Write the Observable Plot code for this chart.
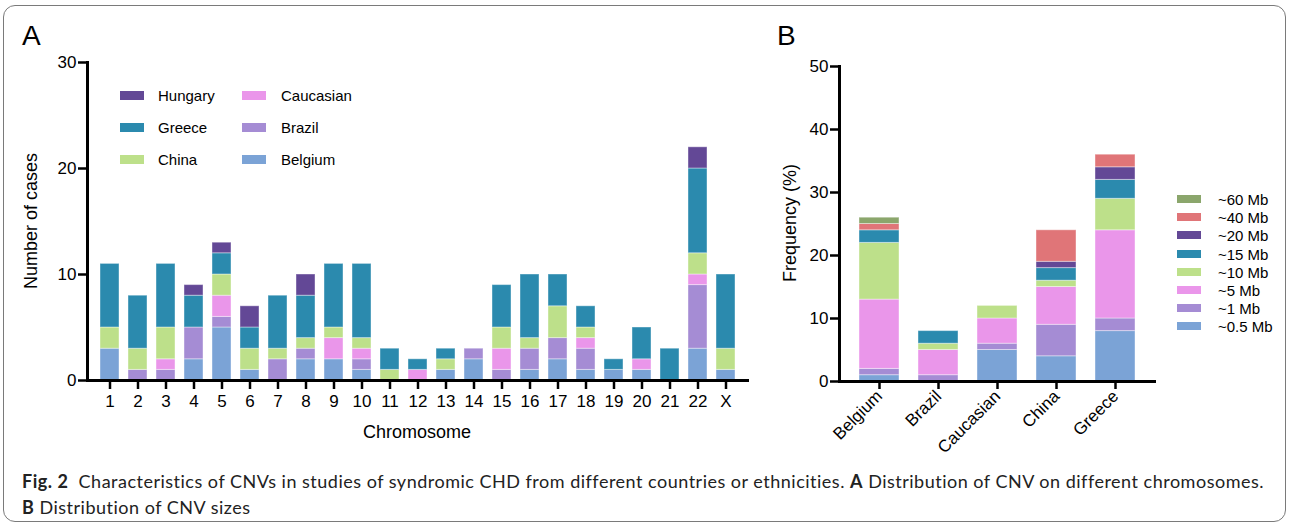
<!DOCTYPE html>
<html><head><meta charset="utf-8">
<script src="https://cdn.jsdelivr.net/npm/d3@7"></script>
<script src="https://cdn.jsdelivr.net/npm/@observablehq/plot@0.6"></script>
<style>
body{margin:0;background:#fff;width:1290px;height:526px;overflow:hidden;position:relative;font-family:"Liberation Sans",Arial,sans-serif;color:#000;}
#frame{position:absolute;left:3px;top:5px;width:1283px;height:517px;border:1px solid #7a7a7a;border-radius:12px;box-sizing:border-box;}
.abs{position:absolute;}
.panel{font-size:28px;line-height:1;}
.title{font-size:18px;white-space:nowrap;transform:translate(-50%,-50%);line-height:1;}
.title.rot{transform:translate(-50%,-50%) rotate(-90deg);}
.leg{position:absolute;font-size:15px;line-height:1;white-space:nowrap;}
.leg .sw{position:absolute;width:24px;height:9px;}
.leg span.t{position:absolute;transform:translateY(-50%);}
#caption{position:absolute;left:22px;top:468px;font-family:Lato,"Open Sans",sans-serif;font-size:18px;letter-spacing:0.5px;line-height:26px;color:#222;white-space:nowrap;}
</style></head><body>
<div id="frame"></div>
<div id="plotA" class="abs" style="left:0;top:0"></div>
<div id="plotB" class="abs" style="left:760px;top:0"></div>
<div class="abs panel" style="left:22px;top:22px">A</div>
<div class="abs panel" style="left:777px;top:22px">B</div>
<div class="abs title rot" style="left:31px;top:221px">Number of cases</div>
<div class="abs title" style="left:417px;top:432px">Chromosome</div>
<div class="abs title rot" style="left:790px;top:223px">Frequency (%)</div>
<div id="legA"></div>
<div id="legB"></div>
<div id="caption"><b>Fig. 2</b>&nbsp; Characteristics of CNVs in studies of syndromic CHD from different countries or ethnicities. <b>A</b> Distribution of CNV on different chromosomes.<br><b>B</b> Distribution of CNV sizes</div>
<script>
// ---------- Panel A data ----------
const chromosomes = ["1","2","3","4","5","6","7","8","9","10","11","12","13","14","15","16","17","18","19","20","21","22","X"];
const countriesA = ["Belgium","Brazil","Caucasian","China","Greece","Hungary"];
const belgiumA   = [3,0,0,2,5,1,0,2,2,1,0,0,1,2,0,1,2,1,1,1,0,3,1];
const brazilA    = [0,1,1,3,1,0,2,1,0,1,0,0,0,1,1,2,2,2,0,0,0,6,0];
const caucasianA = [0,0,1,0,2,0,0,0,2,1,0,1,0,0,2,0,0,1,0,1,0,1,0];
const chinaA     = [2,2,3,0,2,2,1,1,1,1,1,0,1,0,2,1,3,1,0,0,0,2,2];
const greeceA    = [6,5,6,3,2,2,5,4,6,7,2,1,1,0,4,6,3,2,1,3,3,8,7];
const hungaryA   = [0,0,0,1,1,2,0,2,0,0,0,0,0,0,0,0,0,0,0,0,0,2,0];
const colorsA = ["#7ba3d6","#a58cd4","#ea96ea","#bde08a","#2b8aae","#634896"];
const yTicksA = [0,10,20,30];

// ---------- Panel B data ----------
const countriesB = ["Belgium","Brazil","Caucasian","China","Greece"];
const sizesB = ["~0.5 Mb","~1 Mb","~5 Mb","~10 Mb","~15 Mb","~20 Mb","~40 Mb","~60 Mb"];
const mb05 = [1,0,5,4,8];
const mb1  = [1,1,1,5,2];
const mb5  = [11,4,4,6,14];
const mb10 = [9,1,2,1,5];
const mb15 = [2,2,0,2,3];
const mb20 = [0,0,0,1,2];
const mb40 = [1,0,0,5,2];
const mb60 = [1,0,0,0,0];
const colorsB = ["#7ba3d6","#a58cd4","#ea96ea","#bde08a","#2b8aae","#634896","#e07578","#8ba66c"];
const yTicksB = [0,10,20,30,40,50];

// legend layout (display order)
const legendA = [["Hungary","Caucasian"],["Greece","Brazil"],["China","Belgium"]];

const seriesA = [belgiumA, brazilA, caucasianA, chinaA, greeceA, hungaryA];
const rowsA = countriesA.flatMap((c,i)=>seriesA[i].map((v,j)=>({chr:chromosomes[j],country:c,value:v}))).filter(d=>d.value>0);
const seriesB = [mb05, mb1, mb5, mb10, mb15, mb20, mb40, mb60];
const rowsB = sizesB.flatMap((s,i)=>seriesB[i].map((v,j)=>({country:countriesB[j],size:s,value:v}))).filter(d=>d.value>0);

const baseStyle = {fontFamily:"Liberation Sans, Arial, sans-serif", color:"#000", background:"transparent", overflow:"visible"};

const plotA = Plot.plot({
  width:760, height:450, marginLeft:87, marginRight:13, marginTop:62, marginBottom:70,
  style:baseStyle,
  x:{domain:chromosomes, padding:0.33, axis:null},
  y:{domain:[0,30], axis:null},
  color:{domain:countriesA, range:colorsA},
  marks:[
    Plot.barY(rowsA,{x:"chr",y:"value",fill:"country",order:countriesA,stroke:"#fff",strokeOpacity:0.4,strokeWidth:1}),
    Plot.axisY({ticks:yTicksA, tickSize:9, tickPadding:2, strokeWidth:2.5, fontSize:17, label:null}),
    Plot.axisX({tickSize:9, tickPadding:5, strokeWidth:2.5, fontSize:17, label:null}),
    Plot.frame({anchor:"left", strokeWidth:3}),
    Plot.frame({anchor:"bottom", strokeWidth:3})
  ]
});
document.getElementById("plotA").appendChild(plotA);

const plotB = Plot.plot({
  width:530, height:460, marginLeft:79, marginRight:136, marginTop:66, marginBottom:79,
  style:baseStyle,
  x:{domain:countriesB, padding:0.33, axis:null},
  y:{domain:[0,50], axis:null},
  color:{domain:sizesB, range:colorsB},
  marks:[
    Plot.barY(rowsB,{x:"country",y:"value",fill:"size",order:sizesB,stroke:"#fff",strokeOpacity:0.4,strokeWidth:1}),
    Plot.axisY({ticks:yTicksB, tickSize:9, tickPadding:2, strokeWidth:2.5, fontSize:17, label:null}),
    Plot.axisX({tickSize:8, tickPadding:4, tickRotate:-45, strokeWidth:2.5, fontSize:17, label:null}),
    Plot.frame({anchor:"left", strokeWidth:3}),
    Plot.frame({anchor:"bottom", strokeWidth:3})
  ]
});
document.getElementById("plotB").appendChild(plotB);

// Legend A
const colA = d3.scaleOrdinal(countriesA, colorsA);
const legA = document.getElementById("legA");
legendA.forEach((row,r)=>row.forEach((name,c)=>{
  const cy = 95 + r*32;
  const sx = c===0 ? 120 : 242;
  const tx = c===0 ? 158 : 281;
  const el = document.createElement("div");
  el.className="leg";
  el.style.left="0px"; el.style.top="0px";
  el.innerHTML = `<div class="sw" style="left:${sx}px;top:${cy-4.5}px;background:${colA(name)}"></div><span class="t" style="left:${tx}px;top:${cy}px">${name}</span>`;
  legA.appendChild(el);
}));
// Legend B (top = largest)
const colB = d3.scaleOrdinal(sizesB, colorsB);
const legB = document.getElementById("legB");
sizesB.slice().reverse().forEach((name,i)=>{
  const cy = 199 + i*18.2;
  const el = document.createElement("div");
  el.className="leg";
  el.style.left="0px"; el.style.top="0px";
  el.innerHTML = `<div class="sw" style="left:1177px;top:${cy-4}px;height:8px;background:${colB(name)}"></div><span class="t" style="left:1218px;top:${cy}px">${name}</span>`;
  legB.appendChild(el);
});
</script>
</body></html>
